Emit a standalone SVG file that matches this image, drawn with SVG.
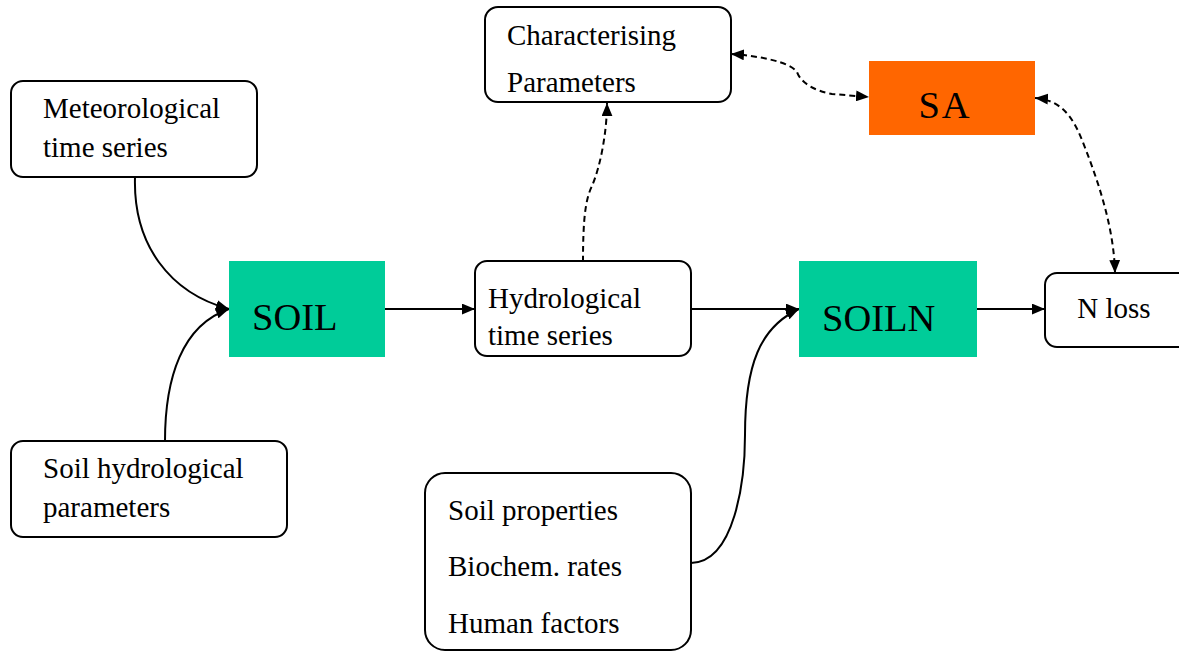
<svg xmlns="http://www.w3.org/2000/svg" width="1179" height="652" viewBox="0 0 1179 652">
<defs>
<marker id="ah" viewBox="0 0 12 10" refX="12" refY="5" markerWidth="13" markerHeight="11" markerUnits="userSpaceOnUse" orient="auto-start-reverse">
<path d="M0,0 L12,5 L0,10 Z" fill="#000"/>
</marker>
<style>
.box{fill:#fff;stroke:#000;stroke-width:2}
.model{fill:#00CC99}
.sa{fill:#FF6600}
text{font-family:"Liberation Serif","Times New Roman",serif;fill:#000}
.t{font-size:29px}
.big{font-size:38.5px}
.solid{fill:none;stroke:#000;stroke-width:2}
.dash{fill:none;stroke:#000;stroke-width:2;stroke-dasharray:6 4}
</style>
</defs>
<rect width="1179" height="652" fill="#fff"/>
<g id="connectors">
<path class="solid" d="M135,177 C133,245 170,293 229,309" marker-end="url(#ah)"/>
<path class="solid" d="M165,441 C165,378 182,325 229,309" marker-end="url(#ah)"/>
<path class="solid" d="M385,309 L475,309" marker-end="url(#ah)"/>
<path class="solid" d="M691,309 L799,309" marker-end="url(#ah)"/>
<path class="solid" d="M691,563 C735,562 745,480 745,435 C745,365 760,327 799,309" marker-end="url(#ah)"/>
<path class="solid" d="M977,309 L1045,309" marker-end="url(#ah)"/>
<path class="dash" d="M583,262 C583,222 585,200 592,186 C601,165 607,130 607,103" marker-end="url(#ah)"/>
<path class="dash" d="M731,54 C760,56 790,62 797,72 C801,83 815,91 832,94 L869,97" marker-start="url(#ah)" marker-end="url(#ah)"/>
<path class="dash" d="M1035,98 C1060,100 1072,115 1082,140 C1100,185 1114,230 1115,273" marker-start="url(#ah)" marker-end="url(#ah)"/>
</g>
<g id="meteo">
<rect class="box" x="11" y="81" width="246" height="96" rx="12"/>
<text class="t" x="43" y="118">Meteorological</text>
<text class="t" x="43" y="157">time series</text>
</g>
<g id="soilhydro">
<rect class="box" x="11" y="441" width="276" height="96" rx="12"/>
<text class="t" x="43" y="478">Soil hydrological</text>
<text class="t" x="43" y="517">parameters</text>
</g>
<g id="soil">
<rect class="model" x="229" y="261" width="156" height="96"/>
<text class="big" x="252" y="330">SOIL</text>
</g>
<g id="hydro">
<rect class="box" x="475" y="261" width="216" height="95" rx="12"/>
<text class="t" x="488" y="308">Hydrological</text>
<text class="t" x="488" y="345">time series</text>
</g>
<g id="charparams">
<rect class="box" x="485" y="7" width="246" height="95" rx="13"/>
<text class="t" x="507" y="45">Characterising</text>
<text class="t" x="507" y="92">Parameters</text>
</g>
<g id="sa">
<rect class="sa" x="869" y="61" width="166" height="74"/>
<text class="big" x="945" y="118" text-anchor="middle" letter-spacing="2">SA</text>
</g>
<g id="soiln">
<rect class="model" x="799" y="261" width="178" height="96"/>
<text class="big" x="822" y="331">SOILN</text>
</g>
<g id="nloss">
<rect class="box" x="1045" y="273" width="145" height="74" rx="12"/>
<text class="t" x="1114" y="318" text-anchor="middle">N loss</text>
</g>
<g id="soilprops">
<rect class="box" x="425" y="473" width="266" height="177" rx="20"/>
<text class="t" x="448" y="520">Soil properties</text>
<text class="t" x="448" y="576">Biochem. rates</text>
<text class="t" x="448" y="633">Human factors</text>
</g>
</svg>
